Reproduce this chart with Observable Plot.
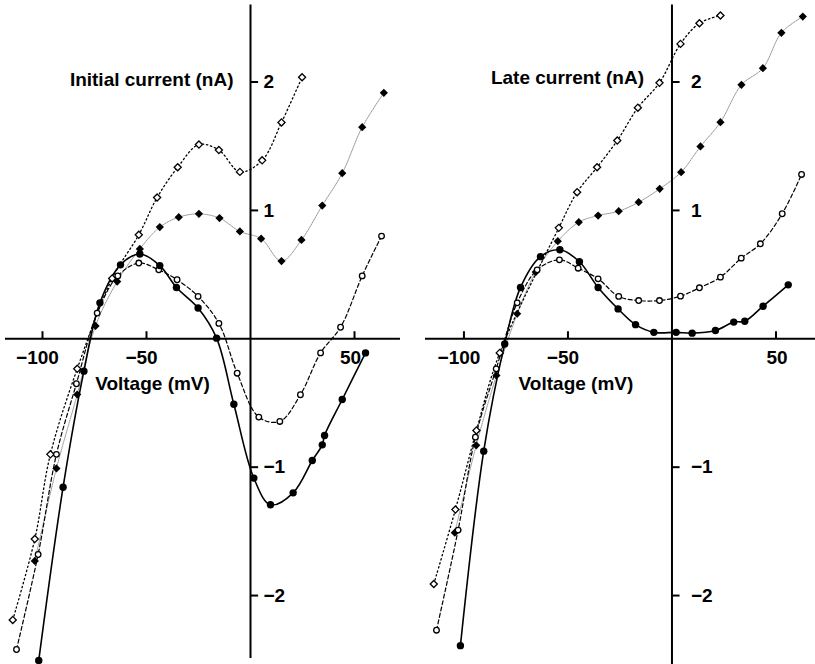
<!DOCTYPE html>
<html>
<head>
<meta charset="utf-8">
<script src="https://cdn.jsdelivr.net/npm/d3@7"></script>
<script src="https://cdn.jsdelivr.net/npm/@observablehq/plot@0.6"></script>
<style>
  html, body { margin: 0; padding: 0; background: #fff; }
  #wrap { position: relative; width: 815px; height: 664px; overflow: hidden; }
  #left, #right { position: absolute; top: 0; }
  #left { left: 0; }
  #right { left: 405px; }
  svg { overflow: visible; }
</style>
</head>
<body>
<div id="wrap"><div id="left"></div><div id="right"></div></div>
<script>
// ---------- Data: Initial current (left panel) ----------
// A: filled circles (solid line)
const iniA_V = [-101.8, -90.1, -80.1, -72.4, -62.5, -53.2, -43.6, -35.6, -25.2, -16.3, -8.0, 1.6, 9.6, 20.5, 29.7, 34.5, 35.6, 44.1, 55.3];
const iniA_I = [-2.505, -1.156, -0.252, 0.28, 0.576, 0.66, 0.57, 0.40, 0.24, 0.005, -0.51, -1.085, -1.293, -1.20, -0.948, -0.826, -0.753, -0.473, -0.11];
// B: open circles (dashed line)
const iniB_V = [-112.5, -102.1, -93.3, -83.7, -73.7, -63.8, -53.7, -44.1, -35.3, -25.2, -15.2, -6.4, 4.0, 14.1, 24.0, 33.7, 43.3, 53.7, 63.0];
const iniB_I = [-2.42, -1.68, -0.90, -0.35, 0.20, 0.49, 0.59, 0.537, 0.46, 0.33, 0.12, -0.268, -0.61, -0.644, -0.436, -0.11, 0.09, 0.49, 0.80];
// C: open diamonds (dotted line)
const iniC_V = [-114.3, -103.7, -96.2, -83.3, -66.5, -53.7, -44.9, -35.0, -24.8, -15.2, -5.1, 5.6, 14.9, 24.8];
const iniC_I = [-2.19, -1.56, -0.90, -0.234, 0.47, 0.81, 1.10, 1.336, 1.513, 1.47, 1.30, 1.39, 1.685, 2.037];
// D: filled diamonds (fine grey line)
const iniD_V = [-103.7, -93.3, -83.3, -74.5, -64.1, -53.2, -43.6, -34.5, -24.8, -14.9, -5.1, 5.1, 14.9, 24.5, 34.5, 44.1, 53.7, 64.1];
const iniD_I = [-1.73, -1.01, -0.434, 0.10, 0.446, 0.70, 0.87, 0.947, 0.973, 0.94, 0.836, 0.78, 0.605, 0.77, 1.038, 1.29, 1.648, 1.916];

// ---------- Data: Late current (right panel) ----------
const lateA_V = [-101.7, -90.5, -80.4, -72.8, -63.2, -53.9, -44.5, -35.5, -25.9, -17.5, -8.7, 2.0, 9.7, 20.9, 29.7, 35.0, 43.8, 55.9];
const lateA_I = [-2.39, -0.875, -0.04, 0.40, 0.64, 0.693, 0.60, 0.40, 0.233, 0.11, 0.05, 0.05, 0.044, 0.065, 0.13, 0.137, 0.254, 0.42];
const lateB_V = [-113.2, -102.8, -94.5, -84.5, -74.4, -64.8, -54.1, -45.1, -35.5, -25.6, -16.0, -6.0, 4.1, 13.2, 23.3, 33.3, 42.5, 53.0, 62.3];
const lateB_I = [-2.27, -1.49, -0.766, -0.234, 0.28, 0.537, 0.615, 0.55, 0.467, 0.33, 0.298, 0.298, 0.332, 0.397, 0.48, 0.628, 0.74, 0.974, 1.28];
const lateC_V = [-114.5, -104.1, -94.0, -82.8, -54.4, -45.6, -36.0, -26.3, -16.4, -6.0, 4.1, 13.2, 23.3];
const lateC_I = [-1.91, -1.33, -0.714, -0.11, 0.864, 1.142, 1.336, 1.544, 1.80, 1.994, 2.297, 2.458, 2.518];
const lateD_V = [-104.4, -94.1, -84.4, -74.4, -65.5, -54.9, -44.8, -35.5, -25.6, -16.0, -5.9, 4.4, 13.7, 23.3, 33.4, 43.7, 52.6, 62.9];
const lateD_I = [-1.51, -0.83, -0.286, 0.195, 0.52, 0.76, 0.908, 0.96, 0.994, 1.064, 1.168, 1.298, 1.498, 1.687, 1.978, 2.108, 2.383, 2.51];

// ---------- Axes ----------
const xTicks = [-100, -50, 50];
const xTickLabels = ["\u2212100", "\u221250", "50"];
const yTicks = [-2, -1, 1, 2];
const yTickLabels = ["\u22122", "\u22121", "1", "2"];

const FONT = "'Liberation Sans', Arial, Helvetica, sans-serif";

const styles = {
  A: {symbol: "circle", r: 3.7, fill: "#000", stroke: "none", sw: 0, line: {stroke: "#000", strokeWidth: 1.6}},
  B: {symbol: "circle", r: 2.8, fill: "#fff", stroke: "#000", sw: 1.3, line: {stroke: "#000", strokeWidth: 1.2, strokeDasharray: "4,2.6"}},
  C: {symbol: "diamond2", r: 3.2, fill: "#fff", stroke: "#000", sw: 1.3, line: {stroke: "#000", strokeWidth: 1.3, strokeDasharray: "1.4,2.8"}},
  D: {symbol: "diamond2", r: 3.7, fill: "#000", stroke: "none", sw: 0, line: {stroke: "#888", strokeWidth: 0.9, strokeDasharray: "1,1"}}
};

function rows(V, I) { return V.map((v, i) => ({v, c: I[i]})); }

const xTickRows = xTicks.map((t, i) => ({t, label: xTickLabels[i]}));
const yTickRows = yTicks.map((t, i) => ({t, label: yTickLabels[i]}));

function panel(cfg) {
  const series = cfg.series;
  const marks = [];
  const txt = {fontSize: 19, fontWeight: "bold", fontFamily: FONT, fill: "#000"};
  // fitted lines
  for (const [key, data] of series) {
    const s = styles[key];
    marks.push(Plot.line(data, {x: "v", y: "c", curve: "catmull-rom", ...s.line}));
  }
  // axes
  marks.push(Plot.ruleY([0], {x1: cfg.xAxis[0], x2: cfg.xAxis[1], stroke: "#000", strokeWidth: 2}));
  marks.push(Plot.ruleX([0], {y1: cfg.yAxis[0], y2: cfg.yAxis[1], stroke: "#000", strokeWidth: 2}));
  marks.push(Plot.ruleX(xTicks, {y1: 0, y2: 0.055, stroke: "#000", strokeWidth: 2}));
  marks.push(Plot.ruleY(yTicks, {x1: 0, x2: 3.9, stroke: "#000", strokeWidth: 2}));
  marks.push(Plot.text(xTickRows.filter(d => d.t < 0), {x: "t", y: () => 0, text: "label", dy: 19, dx: -5, textAnchor: "middle", ...txt}));
  marks.push(Plot.text(xTickRows.filter(d => d.t > 0), {x: "t", y: () => 0, text: "label", dy: 19, dx: cfg.posDx, textAnchor: "middle", ...txt}));
  marks.push(Plot.text(yTickRows, {x: () => 0, y: "t", text: "label", dx: cfg.yLabelDx, textAnchor: "start", ...txt}));
  marks.push(Plot.text([cfg.title], {x: () => 0, y: () => 2, text: d => d, dx: cfg.titleDx, dy: cfg.titleDy, textAnchor: "end", ...txt}));
  marks.push(Plot.text(["Voltage (mV)"], {x: () => -50, y: () => 0, text: d => d, dx: cfg.voltDx, dy: 45, textAnchor: "middle", ...txt}));
  // markers
  for (const [key, data] of series) {
    const s = styles[key];
    marks.push(Plot.dot(data, {x: "v", y: "c", symbol: s.symbol, r: s.r, fill: s.fill, stroke: s.stroke, strokeWidth: s.sw}));
  }
  return Plot.plot({
    width: 410, height: 664,
    marginTop: 0, marginBottom: 0, marginLeft: 0, marginRight: 0,
    x: {domain: cfg.xDomain, axis: null},
    y: {domain: [-2.537, 2.635], axis: null},
    style: {background: "transparent", overflow: "visible"},
    marks
  });
}

const left = panel({
  series: [["D", rows(iniD_V, iniD_I)], ["C", rows(iniC_V, iniC_I)], ["B", rows(iniB_V, iniB_I)], ["A", rows(iniA_V, iniA_I)]],
  xDomain: [-120.19, 76.92],
  xAxis: [-117.8, 72.1], yAxis: [-2.49, 2.6],
  yLabelDx: 13, posDx: -4, title: "Initial current (nA)", titleDx: -17, titleDy: -2, voltDx: 6
});
const right = panel({
  series: [["D", rows(lateD_V, lateD_I)], ["C", rows(lateC_V, lateC_I)], ["B", rows(lateB_V, lateB_I)], ["A", rows(lateA_V, lateA_I)]],
  xDomain: [-128.1, 69.0],
  xAxis: [-118.5, 69.0], yAxis: [-2.6, 2.6],
  yLabelDx: 19, posDx: 1, title: "Late current (nA)", titleDx: -28, titleDy: -4, voltDx: 8
});
document.getElementById("left").appendChild(left);
document.getElementById("right").appendChild(right);
</script>
</body>
</html>
